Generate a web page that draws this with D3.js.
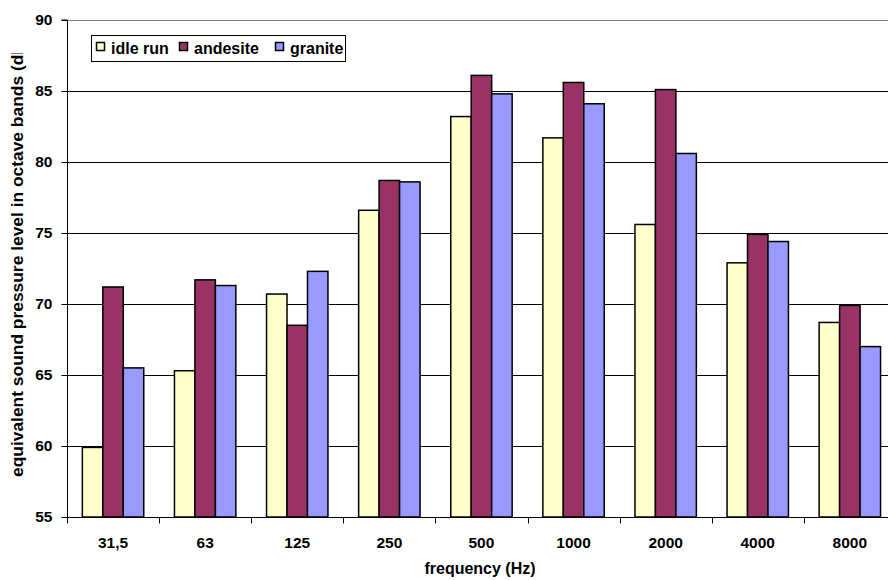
<!DOCTYPE html>
<html>
<head>
<meta charset="utf-8">
<script src="https://cdn.jsdelivr.net/npm/d3@7"></script>
<style>
  html, body { margin: 0; padding: 0; background: #fff; }
  svg { display: block; font-family: "Liberation Sans", Arial, sans-serif; font-weight: bold; }
</style>
</head>
<body>
<svg id="chart" width="888" height="580"></svg>
<script>
// Octave band centre frequencies
const categories = ["31,5", "63", "125", "250", "500", "1000", "2000", "4000", "8000"];
// Equivalent sound pressure level per band, dB
const idleRun  = [59.9, 65.3, 70.7, 76.6, 83.2, 81.7, 75.6, 72.9, 68.7];
const andesite = [71.2, 71.7, 68.5, 78.7, 86.1, 85.6, 85.1, 74.9, 69.9];
const granite  = [65.5, 71.3, 72.3, 78.6, 84.8, 84.1, 80.6, 74.4, 67.0];
const seriesNames = ["idle run", "andesite", "granite"];
const yTicks = [55, 60, 65, 70, 75, 80, 85, 90];

const seriesValues = [idleRun, andesite, granite];
const colors = ["#FFFFCC", "#993366", "#9999FF"];

const svg = d3.select("#chart");
const plotLeft = 67, plotTop = 20, plotBottom = 517, bandW = 92.1;
const plotRight = plotLeft + bandW * categories.length;

const x = d3.scaleBand().domain(categories).range([plotLeft, plotRight]).paddingInner(0).paddingOuter(0);
const inner = d3.scaleBand().domain(d3.range(seriesNames.length))
  .range([0, x.bandwidth()]).paddingOuter(0.75).paddingInner(0);
const y = d3.scaleLinear().domain([55, 90]).range([plotBottom, plotTop]);

// horizontal gridlines
svg.append("g").selectAll("line").data(yTicks.filter(t => t > 55)).join("line")
  .attr("x1", plotLeft).attr("x2", plotRight)
  .attr("y1", d => Math.round(y(d)) + 0.5).attr("y2", d => Math.round(y(d)) + 0.5)
  .attr("stroke", d => d === 90 ? "#808080" : "#000")
  .attr("stroke-width", 1);

// bars
const rows = categories.map((c, i) => ({ c, vals: seriesValues.map(s => s[i]) }));
svg.append("g").selectAll("g").data(rows).join("g")
  .attr("transform", d => `translate(${x(d.c)},0)`)
  .selectAll("rect").data(d => d.vals.map((v, k) => ({ v, k }))).join("rect")
  .attr("x", d => inner(d.k))
  .attr("width", inner.bandwidth())
  .attr("y", d => y(d.v))
  .attr("height", d => y(55) - y(d.v))
  .attr("fill", d => colors[d.k])
  .attr("stroke", "#000")
  .attr("stroke-width", 1.5);

// y axis
const yAxis = d3.axisLeft(y).tickValues(yTicks).tickSize(6).tickPadding(9).tickFormat(d3.format("d"));
const gy = svg.append("g").attr("transform", `translate(${plotLeft + 0.5},0)`).call(yAxis);
gy.select(".domain").attr("stroke", "#000").attr("d", `M-6,${plotTop}H0V${plotBottom}`);
gy.selectAll(".tick line").attr("stroke", "#000");
gy.selectAll(".tick text").attr("font-size", 15.5).attr("font-weight", "bold")
  .attr("font-family", "Liberation Sans, Arial, sans-serif").attr("fill", "#000");

// x axis: ticks sit on the category boundaries
const gx = svg.append("g").attr("transform", `translate(0,${plotBottom + 0.5})`);
gx.append("line").attr("x1", plotLeft).attr("x2", plotRight).attr("stroke", "#000");
gx.selectAll("line.tk").data(d3.range(categories.length + 1)).join("line")
  .attr("class", "tk")
  .attr("x1", i => Math.round(plotLeft + i * bandW) + 0.5).attr("x2", i => Math.round(plotLeft + i * bandW) + 0.5)
  .attr("y1", 0).attr("y2", 6).attr("stroke", "#000");
gx.selectAll("text").data(categories).join("text")
  .attr("x", d => x(d) + x.bandwidth() / 2)
  .attr("y", 30)
  .attr("text-anchor", "middle")
  .attr("font-size", 15.5)
  .text(d => d);

// axis titles
svg.append("text")
  .attr("x", 480).attr("y", 574)
  .attr("text-anchor", "middle").attr("font-size", 16)
  .text("frequency (Hz)");

// the vertical title runs past the top of its frame and is cut there
svg.append("clipPath").attr("id", "ytitle-clip")
  .append("rect").attr("x", 0).attr("y", 53).attr("width", 40).attr("height", 527);
svg.append("g")
  .attr("clip-path", "url(#ytitle-clip)")
  .append("text")
  .attr("transform", "translate(23,477) rotate(-90)")
  .attr("text-anchor", "start").attr("font-size", 17.4)
  .text("equivalent sound pressure level in octave bands (dB)");

// legend
const legend = svg.append("g");
legend.append("rect").attr("x", 91.5).attr("y", 35.5).attr("width", 254).attr("height", 26)
  .attr("fill", "#fff").attr("stroke", "#000");
const legendX = [96, 179, 275];
seriesNames.forEach((name, k) => {
  legend.append("rect").attr("x", legendX[k] + 0.5).attr("y", 42.5).attr("width", 8).attr("height", 8)
    .attr("fill", colors[k]).attr("stroke", "#000").attr("stroke-width", 1.5);
  legend.append("text").attr("x", legendX[k] + 15).attr("y", 54)
    .attr("font-size", 16).text(name);
});
</script>
</body>
</html>
